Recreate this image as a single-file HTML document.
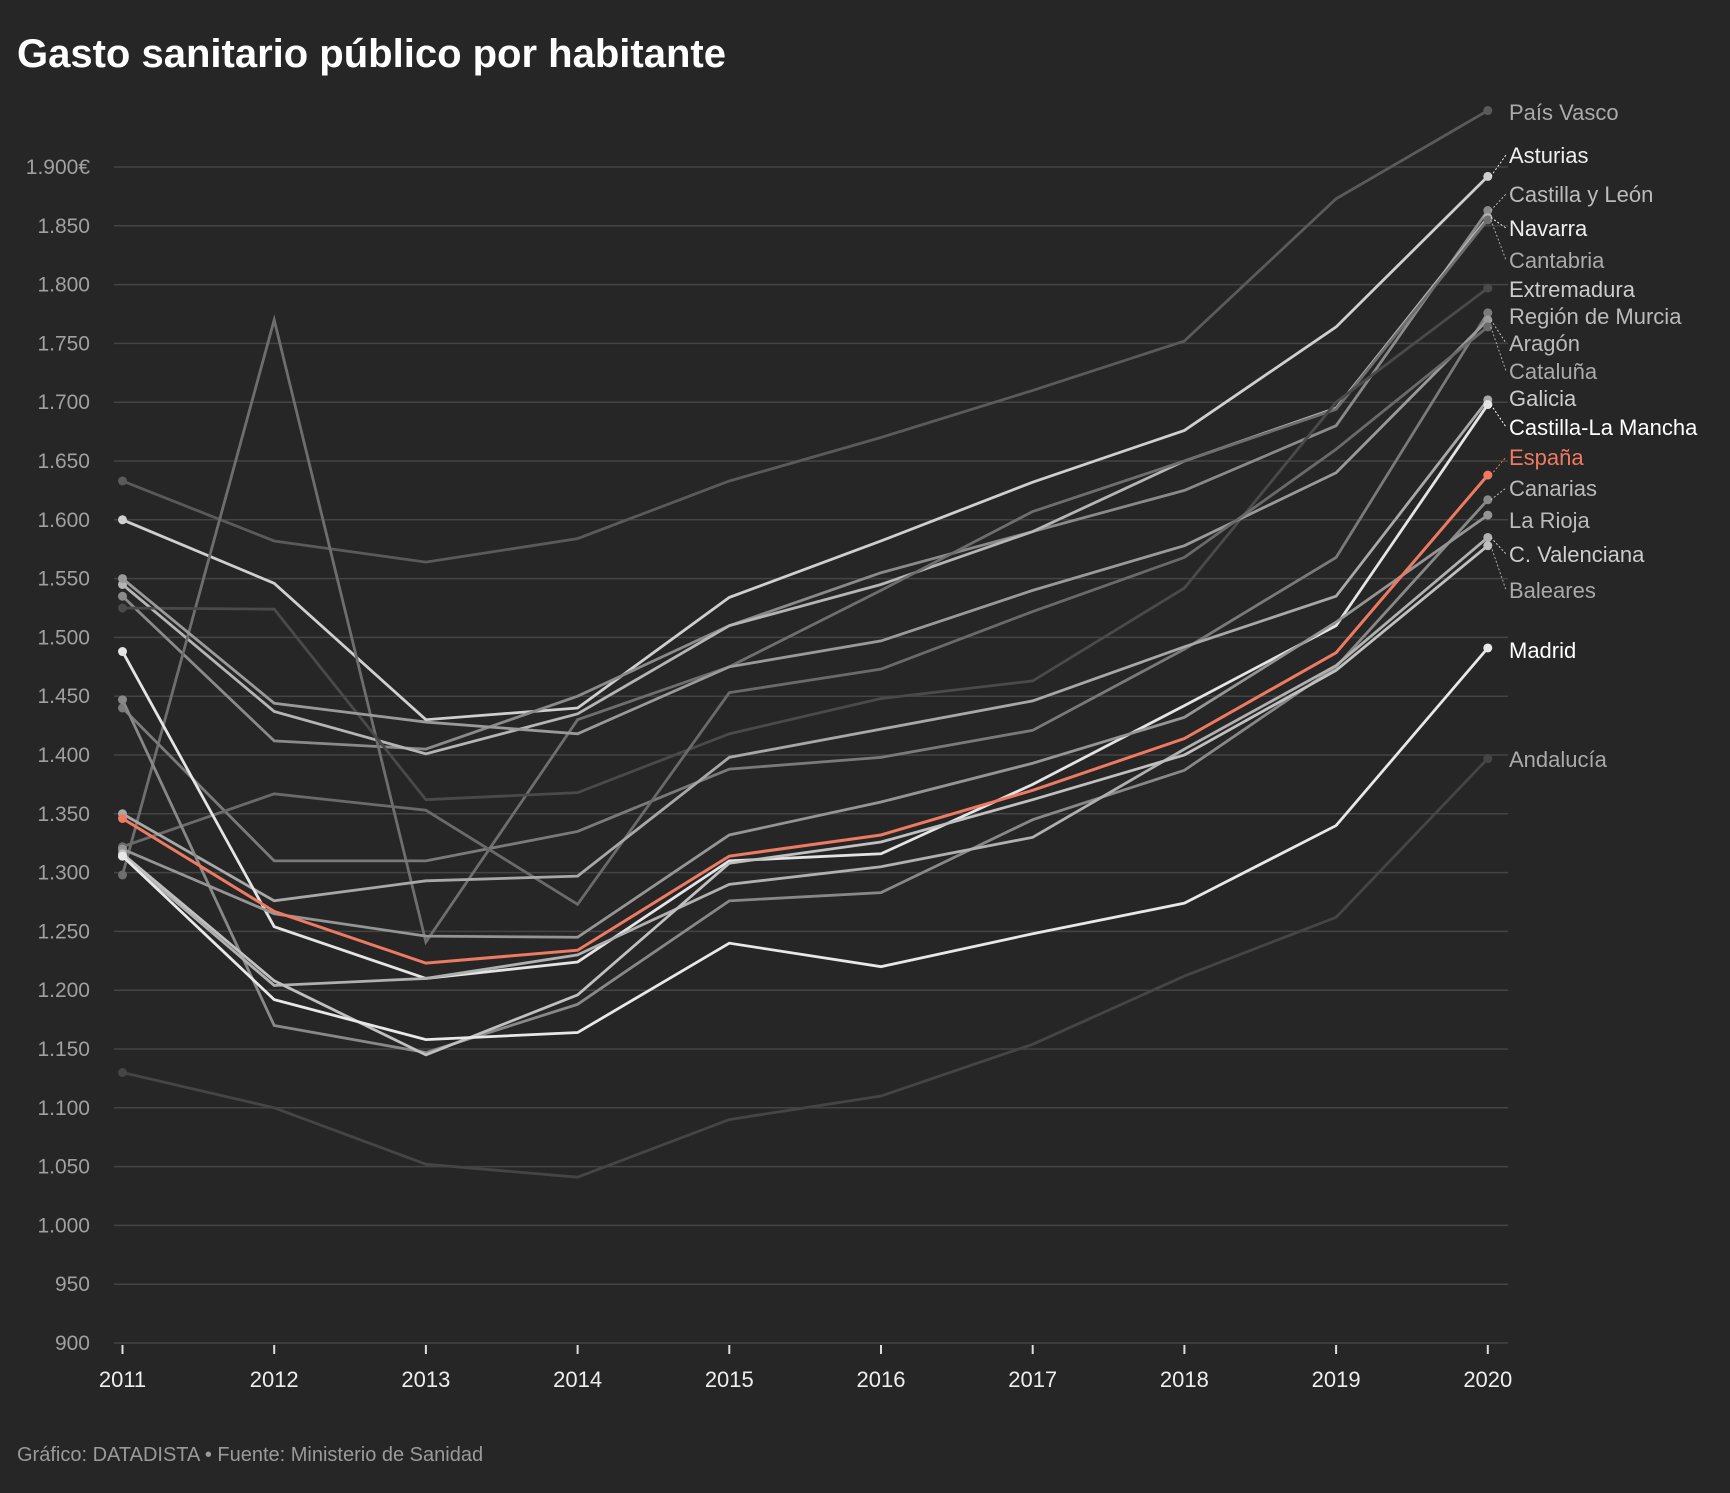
<!DOCTYPE html>
<html><head><meta charset="utf-8"><style>
body{margin:0;background:#262626;width:1730px;height:1488px;overflow:hidden;font-family:"Liberation Sans",sans-serif}
</style></head><body>
<svg id="chart" width="1730" height="1488" xmlns="http://www.w3.org/2000/svg">
<rect width="1730" height="1488" fill="#262626"/>
<text x="17" y="67" fill="#fff" font-size="40" font-weight="bold">Gasto sanitario público por habitante</text>
<text x="17" y="1461" fill="#9a9a9a" font-size="20">Gráfico: DATADISTA • Fuente: Ministerio de Sanidad</text>
<g id="grid"></g><g id="lines"></g><g id="labels"></g>
</svg>
<script>
const years=[2011,2012,2013,2014,2015,2016,2017,2018,2019,2020];
const yTicks=[900,950,1000,1050,1100,1150,1200,1250,1300,1350,1400,1450,1500,1550,1600,1650,1700,1750,1800,1850,1900];
const names=["País Vasco","Asturias","Castilla y León","Navarra","Cantabria","Extremadura","Región de Murcia","Aragón","Cataluña","Galicia","Castilla-La Mancha","España","Canarias","La Rioja","C. Valenciana","Baleares","Madrid","Andalucía"];
const vPaisVasco=[1633,1582,1564,1584,1633,1670,1710,1752,1873,1948];
const vAsturias=[1600,1546,1430,1440,1534,1582,1632,1676,1764,1892];
const vCyL=[1535,1412,1405,1450,1510,1555,1590,1625,1680,1863];
const vNavarra=[1545,1437,1401,1435,1510,1545,1590,1650,1695,1857];
const vCantabria=[1298,1770,1241,1430,1475,1540,1607,1650,1694,1855];
const vExtremadura=[1525,1524,1362,1368,1418,1448,1463,1542,1700,1797];
const vMurcia=[1440,1310,1310,1335,1388,1398,1421,1490,1568,1776];
const vAragon=[1550,1444,1428,1418,1475,1497,1540,1578,1640,1770];
const vCataluna=[1322,1367,1353,1273,1453,1473,1522,1568,1660,1764];
const vGalicia=[1350,1276,1293,1297,1398,1422,1446,1492,1535,1702];
const vCLM=[1488,1254,1210,1224,1310,1316,1375,1442,1510,1698];
const vEspana=[1346,1267,1223,1234,1314,1332,1370,1414,1487,1638];
const vCanarias=[1447,1170,1147,1188,1276,1283,1345,1387,1475,1617];
const vRioja=[1320,1265,1246,1245,1332,1360,1393,1432,1513,1604];
const vValenciana=[1314,1204,1210,1230,1290,1305,1330,1405,1476,1585];
const vBaleares=[1316,1208,1145,1196,1308,1326,1362,1400,1472,1578];
const vMadrid=[1314,1192,1158,1164,1240,1220,1248,1274,1340,1491];
const vAndalucia=[1130,1100,1052,1041,1090,1110,1154,1212,1262,1397];
const values=[vPaisVasco,vAsturias,vCyL,vNavarra,vCantabria,vExtremadura,vMurcia,vAragon,vCataluna,vGalicia,vCLM,vEspana,vCanarias,vRioja,vValenciana,vBaleares,vMadrid,vAndalucia];
const colors=["#5a5a5a","#cfcfcf","#8a8a8a","#b5b5b5","#6e6e6e","#4a4a4a","#7a7a7a","#9a9a9a","#6a6a6a","#a8a8a8","#e4e4e4","#ee7a62","#888","#959595","#b0b0b0","#c0c0c0","#e8e8e8","#454545"];
const labelColors=["#aaa","#eee","#bbb","#eee","#aaa","#ccc","#bbb","#bbb","#aaa","#ccc","#fff","#ee7a62","#bbb","#bbb","#ccc","#aaa","#fff","#aaa"];
// layout only: label baselines in pixels
const labelPos=[120,163,202,236,268,297,324,351,379,406,435,465,496,528,562,598,658,767];
const NS="http://www.w3.org/2000/svg";
const X0=122.5,XS=151.7;
function xs(i){return X0+i*XS;}
function ys(v){return 1343-(v-900)*1.176;}
function mk(t,a,p){const e=document.createElementNS(NS,t);for(const k in a)e.setAttribute(k,a[k]);p.appendChild(e);return e;}
const grid=document.getElementById('grid'),lines=document.getElementById('lines'),labels=document.getElementById('labels');
yTicks.forEach(v=>{
 const l=mk('line',{x1:114,x2:1508,y1:ys(v),y2:ys(v),stroke:"#444","stroke-width":1.5},grid);
 
 
 const t=mk('text',{x:90,y:ys(v)+7,fill:"#a0a0a0","font-size":21,"text-anchor":"end"},grid);
 t.textContent=v===1900?"1.900€":v.toLocaleString('de-DE');
 
 
});
years.forEach((y,i)=>{
 const tk=mk('line',{x1:xs(i),x2:xs(i),y1:1345,y2:1354,stroke:"#ddd","stroke-width":2},grid);
 
 
 const t=mk('text',{x:xs(i),y:1387,fill:"#eee","font-size":22,"text-anchor":"middle"},grid);
 t.textContent=y;
 
 
});
const order=values.map((v,i)=>i).sort((a,b)=>{if(a===11)return 1;if(b===11)return -1;return 0;});
order.forEach(i=>{
 const d=values[i].map((v,j)=>(j?'L':'M')+xs(j)+','+ys(v)).join('');
 const p=mk('path',{d:d,fill:"none",stroke:colors[i],"stroke-width":i===11?3:2.8},lines);
 
 
 [0,9].forEach(j=>{
  const c=mk('circle',{cx:xs(j),cy:ys(values[i][j]),r:4.5,fill:colors[i]},lines);
  
  
 });
});
const idx=values.map((v,i)=>i).sort((a,b)=>values[b][9]-values[a][9]);
idx.forEach((i,k)=>{
 const ty=labelPos[k];
 const ey=ys(values[i][9]);
 if(Math.abs(ty-8-ey)>6){
  const ln=mk('line',{x1:xs(9)+3,y1:ey,x2:1506,y2:ty-8,stroke:labelColors[i],"stroke-width":1,"stroke-dasharray":"2,2"},labels);
  
  
 }
 const t=mk('text',{x:1509,y:ty,fill:labelColors[i],"font-size":22},labels);
 t.textContent=names[i];
 
 
});
</script>
</body></html>
